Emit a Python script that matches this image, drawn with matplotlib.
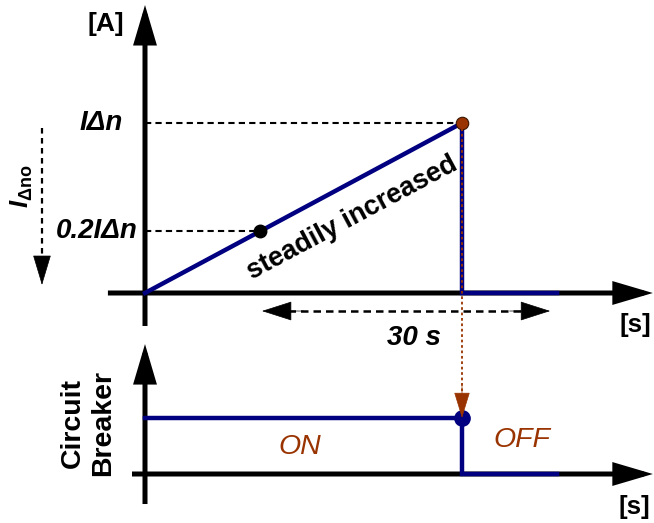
import matplotlib
matplotlib.use('Agg')
import matplotlib.pyplot as plt

plt.rcParams['font.family'] = ['Liberation Sans', 'DejaVu Sans']
plt.rcParams['mathtext.fontset'] = 'custom'
plt.rcParams['mathtext.it'] = 'Liberation Sans:italic:bold'
plt.rcParams['mathtext.rm'] = 'Liberation Sans:bold'

# ---------------- data (normalised units) ----------------
# top panel: residual current, time normalised to the trip instant
current_t = [0.0, 1.0, 1.0, 1.3]
current_i = [0.0, 1.0, 0.0, 0.0]
trip_point_t = [1.0]
trip_point_i = [1.0]
test_point_t = [0.363]
test_point_i = [0.365]
level_labels = ['I\u0394n', '0.2I\u0394n']
level_values = [1.0, 0.365]

# bottom panel: circuit breaker state (1 = ON, 0 = OFF)
cb_t = [0.0, 1.0, 1.0, 1.3]
cb_state = [1, 1, 0, 0]
state_labels = ['ON', 'OFF']

NAVY = '#000080'
BROWN = '#993300'

W, H = 654, 523
fig = plt.figure(figsize=(W / 100, H / 100), dpi=100)
fig.patch.set_facecolor('white')

ax = fig.add_axes([145 / W, (H - 293) / H, 317 / W, 170 / H])
ax.set_xlim(0, 1)
ax.set_ylim(0, 1)
ax.axis('off')

axb = fig.add_axes([145 / W, (H - 474) / H, 317 / W, 56 / H])
axb.set_xlim(0, 1)
axb.set_ylim(0, 1)
axb.axis('off')


def axis_arrow(a, start, tip, lw=3.6):
    a.annotate('', xy=tip, xytext=start, xycoords='data', textcoords='data',
               annotation_clip=False,
               arrowprops=dict(arrowstyle='-|>,head_length=1.05,head_width=0.31',
                               mutation_scale=20, lw=lw, color='black',
                               shrinkA=0, shrinkB=0, joinstyle='miter',
                               capstyle='butt'))


def head(a, start, tip, color='black', hl=1.0, hw=0.32, ms=20):
    a.annotate('', xy=tip, xytext=start, xycoords='data', textcoords='data',
               annotation_clip=False,
               arrowprops=dict(arrowstyle='-|>,head_length=%g,head_width=%g' % (hl, hw),
                               mutation_scale=ms, lw=0.5, color=color,
                               shrinkA=0, shrinkB=0))


# ---------------- top panel ----------------
axis_arrow(ax, (0, -0.194), (0, 1.694))
axis_arrow(ax, (-0.117, 0), (1.602, 0))

ax.plot([0, trip_point_t[0]], [level_values[0]] * 2, color='black', lw=1.5,
        dashes=(3, 2), clip_on=False, zorder=2)
ax.plot([0, test_point_t[0]], [level_values[1]] * 2, color='black', lw=1.5,
        dashes=(3, 2), clip_on=False, zorder=2)

ax.plot(current_t, current_i, color=NAVY, lw=3.2, clip_on=False, zorder=4,
        solid_joinstyle='miter')
ax.plot(test_point_t, test_point_i, 'o', color='black', ms=9, clip_on=False, zorder=6)
ax.plot(trip_point_t, trip_point_i, 'o', color=BROWN, mec='#3a1500', mew=0.8, ms=9,
        clip_on=False, zorder=7)

ax.text(-0.069, level_values[0], level_labels[0], ha='right', va='center',
        fontsize=20, fontweight='bold', style='italic')
ax.text(-0.022, level_values[1], level_labels[1], ha='right', va='center',
        fontsize=20, fontweight='bold', style='italic')
ax.text(-0.123, 1.585, '[A]', ha='center', va='center', fontsize=19,
        fontweight='bold')
ax.text(1.546, -0.188, '[s]', ha='center', va='center', fontsize=18.5,
        fontweight='bold')

ax.plot([-0.325, -0.325], [0.97, 0.12], color='black', lw=1.6, dashes=(2.5, 2),
        clip_on=False)
head(ax, (-0.325, 0.2), (-0.325, 0.047), hl=1.0, hw=0.3)
ax.text(-0.388, 0.625, r'$I_{\mathrm{\Delta no}}$', rotation=90, ha='center',
        va='center', fontsize=18.5)

ax.text(0.655, 0.44, 'steadily increased', rotation=28.2, ha='center', va='center',
        fontsize=19.5, fontweight='bold')

ax.plot([0.45, 1.2], [-0.106, -0.106], color='black', lw=1.8, dashes=(3, 2),
        clip_on=False)
head(ax, (0.5, -0.106), (0.369, -0.106), hl=1.0, hw=0.32)
head(ax, (1.15, -0.106), (1.278, -0.106), hl=1.0, hw=0.32)
ax.text(0.849, -0.265, '30 s', ha='center', va='center', fontsize=20,
        fontweight='bold', style='italic')

# ---------------- bottom panel ----------------
axis_arrow(axb, (0, -0.536), (0, 2.32))
axis_arrow(axb, (-0.041, 0), (1.602, 0))

axb.plot(cb_t, cb_state, color=NAVY, lw=3.2, clip_on=False, zorder=4,
         solid_joinstyle='miter')
axb.plot([cb_t[1]], [cb_state[1]], 'o', color=NAVY, ms=11, clip_on=False, zorder=5)

axb.text(0.489, 0.48, state_labels[0], ha='center', va='center', fontsize=20.5,
         style='italic', color=BROWN)
axb.text(1.189, 0.61, state_labels[1], ha='center', va='center', fontsize=20.5,
         style='italic', color=BROWN)
axb.text(-0.180, 0.91, 'Circuit\nBreaker', rotation=90, ha='center', va='center',
         fontsize=20.5, fontweight='bold', linespacing=1.2,
         multialignment='center')
axb.text(1.543, -0.589, '[s]', ha='center', va='center', fontsize=18.5,
         fontweight='bold')

# brown dotted link from trip point to breaker state
fig.canvas.draw()
p_top = fig.transFigure.inverted().transform(ax.transData.transform((trip_point_t[0], trip_point_i[0])))
p_bot = fig.transFigure.inverted().transform(axb.transData.transform((cb_t[1], cb_state[1])))
p_mid = (p_bot[0], p_bot[1] + 25 / H)
fig.add_artist(plt.Line2D([p_top[0], p_mid[0]], [p_top[1], p_mid[1]],
                          transform=fig.transFigure, color=BROWN, lw=1.3,
                          dashes=(1.5, 1.5), zorder=8))
fig.add_artist(matplotlib.patches.FancyArrowPatch(
    posA=(p_mid[0], p_mid[1] + 8 / H), posB=(p_bot[0], p_bot[1]),
    transform=fig.transFigure,
    arrowstyle='-|>,head_length=0.85,head_width=0.26', mutation_scale=20,
    lw=0.5, color=BROWN, shrinkA=0, shrinkB=0, zorder=9))

fig.savefig('out.png', dpi=100, facecolor='white')
